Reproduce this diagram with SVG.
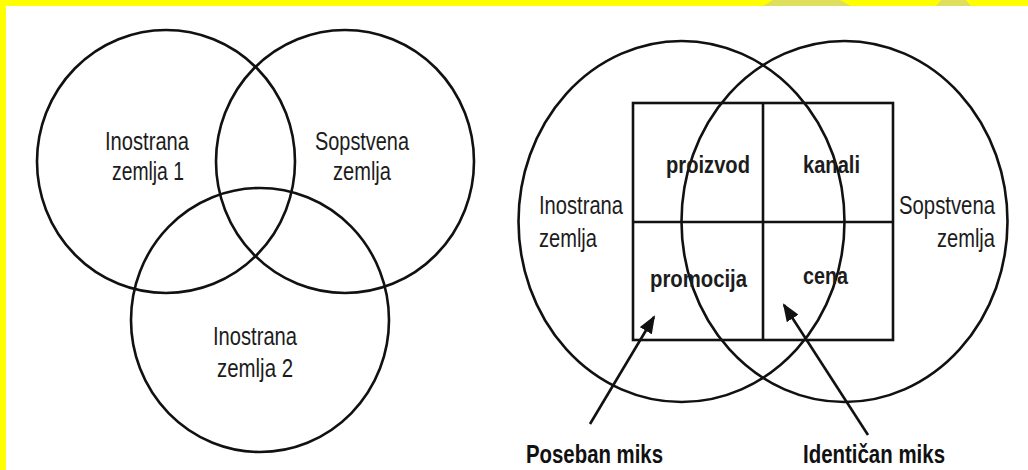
<svg xmlns="http://www.w3.org/2000/svg" width="1028" height="470" viewBox="0 0 1028 470">
  <defs>
    <style>
      .ring { fill: none; stroke: #111; stroke-width: 2.6; }
      .box { fill: none; stroke: #111; stroke-width: 2.6; }
      .lbl { font-family: "Liberation Sans", Arial, sans-serif; font-size: 25px; fill: #1c1c1c; }
      .mix { font-family: "Liberation Sans", Arial, sans-serif; font-size: 23px; font-weight: bold; fill: #1c1c1c; }
      .cap { font-family: "Liberation Sans", Arial, sans-serif; font-size: 25px; font-weight: bold; fill: #111; }
      .arrow { stroke: #111; stroke-width: 2.6; fill: none; marker-end: url(#head); }
    </style>
    <marker id="head" viewBox="0 0 18 14" refX="16" refY="7" markerWidth="18" markerHeight="14" markerUnits="userSpaceOnUse" orient="auto">
      <path d="M0,0 L18,7 L0,14 z" fill="#111"/>
    </marker>
  </defs>

  <rect x="0" y="0" width="1028" height="470" fill="#ffffff"/>

  <!-- yellow page border strips -->
  <rect x="0" y="0" width="1028" height="6" fill="#ffff00"/>
  <rect x="0" y="0" width="6" height="470" fill="#ffff00"/>
  <polygon points="763,6 851,6 840,0 773,0" fill="#dfdf5e"/>
  <polygon points="936,6 971,6 966,0 941,0" fill="#dfdf5e"/>

  <!-- three-country Venn -->
  <g id="inostrana-zemlja-1">
    <ellipse class="ring" cx="166" cy="161.5" rx="129" ry="131.5"/>
    <text class="lbl" x="105" y="150" textLength="84" lengthAdjust="spacingAndGlyphs">Inostrana</text>
    <text class="lbl" x="112" y="180" textLength="72" lengthAdjust="spacingAndGlyphs">zemlja 1</text>
  </g>
  <g id="sopstvena-zemlja-1">
    <ellipse class="ring" cx="345" cy="161.5" rx="129" ry="131.5"/>
    <text class="lbl" x="315" y="150" textLength="94" lengthAdjust="spacingAndGlyphs">Sopstvena</text>
    <text class="lbl" x="333" y="180" textLength="58" lengthAdjust="spacingAndGlyphs">zemlja</text>
  </g>
  <g id="inostrana-zemlja-2">
    <ellipse class="ring" cx="260" cy="320" rx="129" ry="132"/>
    <text class="lbl" x="213" y="345" textLength="84" lengthAdjust="spacingAndGlyphs">Inostrana</text>
    <text class="lbl" x="217" y="377" textLength="76" lengthAdjust="spacingAndGlyphs">zemlja 2</text>
  </g>

  <!-- two-country marketing mix -->
  <g id="inostrana-zemlja">
    <ellipse class="ring" cx="681.5" cy="221.5" rx="163" ry="180.5"/>
    <text class="lbl" x="539" y="214" textLength="84" lengthAdjust="spacingAndGlyphs">Inostrana</text>
    <text class="lbl" x="539" y="247" textLength="58" lengthAdjust="spacingAndGlyphs">zemlja</text>
  </g>
  <g id="sopstvena-zemlja">
    <ellipse class="ring" cx="844.5" cy="221.5" rx="163" ry="180.5"/>
    <text class="lbl" x="899" y="214" textLength="96" lengthAdjust="spacingAndGlyphs">Sopstvena</text>
    <text class="lbl" x="937" y="247" textLength="58" lengthAdjust="spacingAndGlyphs">zemlja</text>
  </g>
  <g id="marketing-mix">
    <rect class="box" x="633" y="103" width="260" height="237"/>
    <line class="box" x1="763" y1="103" x2="763" y2="340"/>
    <line class="box" x1="633" y1="222" x2="893" y2="222"/>
    <text class="mix" x="666" y="173" textLength="84" lengthAdjust="spacingAndGlyphs">proizvod</text>
    <text class="mix" x="803" y="173" textLength="57" lengthAdjust="spacingAndGlyphs">kanali</text>
    <text class="mix" x="650" y="287" textLength="97" lengthAdjust="spacingAndGlyphs">promocija</text>
    <text class="mix" x="803" y="284" textLength="45" lengthAdjust="spacingAndGlyphs">cena</text>
  </g>
  <g id="poseban-miks">
    <text class="cap" x="526" y="463" textLength="137" lengthAdjust="spacingAndGlyphs">Poseban miks</text>
  </g>
  <g id="identican-miks">
    <text class="cap" x="803" y="463" textLength="142" lengthAdjust="spacingAndGlyphs">Identičan miks</text>
  </g>

  <g id="connectors">
    <line class="arrow" x1="590" y1="424" x2="654" y2="317"/>
    <line class="arrow" x1="868" y1="435" x2="784" y2="305"/>
  </g>
</svg>
